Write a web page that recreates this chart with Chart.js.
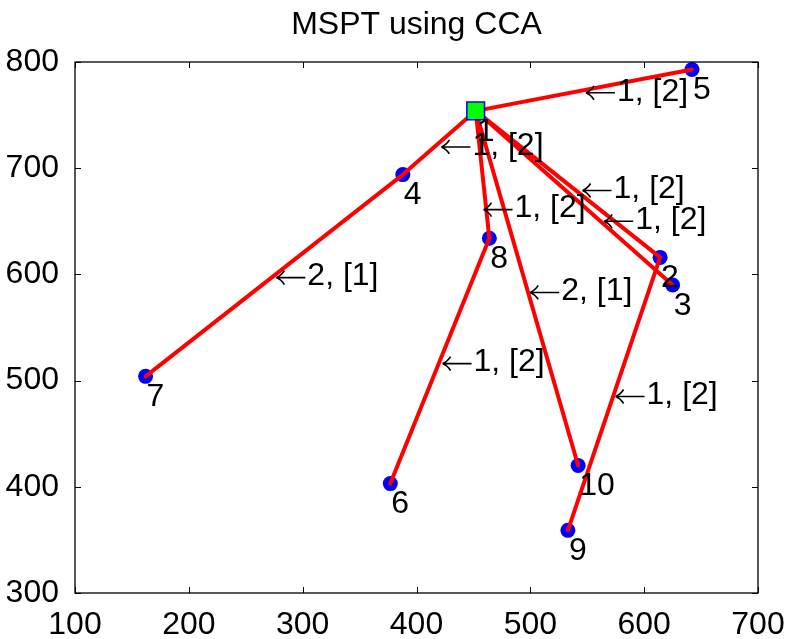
<!DOCTYPE html>
<html><head><meta charset="utf-8">
<script src="https://cdn.jsdelivr.net/npm/chart.js@4/dist/chart.umd.min.js"></script>
<style>html,body{margin:0;padding:0;background:#fff;}#wrap{width:791px;height:639px;}</style>
</head><body><div id="wrap"><canvas id="c" width="791" height="639"></canvas></div>
<script>
const titleText = "MSPT using CCA";
const nodeNames = ["1","2","3","4","5","6","7","8","9","10"];
const nodeX = [452, 614, 625, 388, 642, 377, 162, 464, 533, 542];
const nodeY = [754, 616, 590, 694, 793, 403, 504, 634, 359, 420];
const rootIndex = 0;
const edgeFrom = [1, 1, 4, 1, 8, 1, 1, 1, 9];
const edgeTo   = [5, 4, 7, 8, 6, 10, 2, 3, 2];
const edgeLabels = ["\u21901, [2]","\u21901, [2]","\u21902, [1]","\u21901, [2]","\u21901, [2]","\u21902, [1]","\u21901, [2]","\u21901, [2]","\u21901, [2]"];
const edgeLabelX = [548, 421, 276, 458, 422, 499, 545, 564, 574];
const edgeLabelY = [771, 720, 597, 661, 516, 583, 679, 650, 485];
const xTicks = [100, 200, 300, 400, 500, 600, 700];
const yTicks = [300, 400, 500, 600, 700, 800];

const FONT = '"Liberation Sans", Arial, Helvetica, sans-serif';
const FS = 32;
const datasets = [];
datasets.push({
  label: 'root',
  data: [{x: nodeX[rootIndex], y: nodeY[rootIndex]}],
  pointStyle: 'rect', pointRadius: 12.5, pointBackgroundColor: '#00ff00',
  pointBorderColor: '#0000ff', pointBorderWidth: 1.5, showLine: false, order: 0
});
for (let i = 0; i < edgeFrom.length; i++) {
  const a = edgeFrom[i] - 1, b = edgeTo[i] - 1;
  datasets.push({
    label: 'e' + i,
    data: [{x: nodeX[a], y: nodeY[a]}, {x: nodeX[b], y: nodeY[b]}],
    showLine: true, borderColor: '#ff0000', borderWidth: 4, pointRadius: 0,
    borderCapStyle: 'round', order: 1
  });
}
datasets.push({
  label: 'nodes',
  data: nodeX.map((x, i) => ({x, y: nodeY[i]})).filter((_, i) => i !== rootIndex),
  pointStyle: 'circle', pointRadius: 7.5, pointBackgroundColor: '#0000ff',
  pointBorderColor: '#0000ff', pointBorderWidth: 0, showLine: false, order: 2
});

function drawLabel(ctx, s, x, y) {
  let rest = s;
  if (s.charAt(0) === '\u2190') {
    rest = s.slice(1);
    ctx.save();
    ctx.strokeStyle = '#000';
    ctx.lineWidth = 1.6;
    ctx.beginPath();
    ctx.moveTo(x + 1, y); ctx.lineTo(x + 30, y);
    ctx.moveTo(x + 1, y); ctx.quadraticCurveTo(x + 6, y - 2, x + 9, y - 7);
    ctx.moveTo(x + 1, y); ctx.quadraticCurveTo(x + 6, y + 2, x + 9, y + 7);
    ctx.stroke();
    ctx.restore();
    x += 32;
  }
  ctx.fillText(rest, x, y - 1);
}

const decor = {
  id: 'decor',
  afterDatasetsDraw(chart) {
    const ctx = chart.ctx, xs = chart.scales.x, ys = chart.scales.y, ca = chart.chartArea;
    ctx.save();
    ctx.fillStyle = '#000';
    ctx.font = FS + 'px ' + FONT;
    ctx.textBaseline = 'middle';
    ctx.textAlign = 'left';
    for (let i = 0; i < nodeNames.length; i++) {
      ctx.fillText(nodeNames[i], xs.getPixelForValue(nodeX[i]) + 1, ys.getPixelForValue(nodeY[i]) + 21);
    }
    for (let i = 0; i < edgeLabels.length; i++) {
      drawLabel(ctx, edgeLabels[i], xs.getPixelForValue(edgeLabelX[i]), ys.getPixelForValue(edgeLabelY[i]));
    }
    // title
    ctx.textAlign = 'center';
    ctx.textBaseline = 'alphabetic';
    ctx.fillText(titleText, (ca.left + ca.right) / 2, 34);
    // box
    ctx.strokeStyle = '#000';
    ctx.lineWidth = 1.3;
    ctx.strokeRect(ca.left, ca.top, ca.right - ca.left, ca.bottom - ca.top);
    ctx.beginPath();
    const tl = 6;
    xTicks.forEach(v => {
      const p = Math.round(xs.getPixelForValue(v)) + 0.5;
      ctx.moveTo(p, ca.bottom); ctx.lineTo(p, ca.bottom - tl);
      ctx.moveTo(p, ca.top); ctx.lineTo(p, ca.top + tl);
    });
    yTicks.forEach(v => {
      const p = Math.round(ys.getPixelForValue(v)) + 0.5;
      ctx.moveTo(ca.left, p); ctx.lineTo(ca.left + tl, p);
      ctx.moveTo(ca.right, p); ctx.lineTo(ca.right - tl, p);
    });
    ctx.lineWidth = 1;
    ctx.stroke();
    ctx.restore();
  }
};

new Chart(document.getElementById('c'), {
  type: 'scatter',
  data: {datasets},
  options: {
    responsive: false, animation: false, devicePixelRatio: 1,
    layout: {padding: {top: 62, right: 33, left: 0, bottom: 0}},
    plugins: {legend: {display: false}, tooltip: {enabled: false}, title: {display: false}},
    scales: {
      x: {
        type: 'linear', min: 100, max: 700,
        afterBuildTicks: s => { s.ticks = xTicks.map(v => ({value: v})); },
        afterFit: s => { s.height = 46; },
        grid: {display: false}, border: {display: false},
        ticks: {color: '#000', font: {size: FS, family: FONT}, padding: 5, maxRotation: 0, autoSkip: false}
      },
      y: {
        type: 'linear', min: 300, max: 800,
        afterBuildTicks: s => { s.ticks = yTicks.map(v => ({value: v})); },
        afterFit: s => { s.width = 75; },
        grid: {display: false}, border: {display: false},
        ticks: {color: '#000', font: {size: FS, family: FONT}, padding: 8, autoSkip: false}
      }
    }
  },
  plugins: [decor]
});
</script></body></html>
